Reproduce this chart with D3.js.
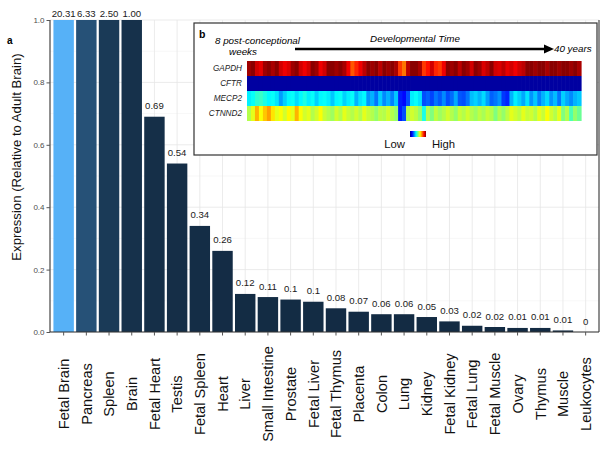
<!DOCTYPE html>
<html><head><meta charset="utf-8">
<script src="https://cdn.jsdelivr.net/npm/d3@7"></script>
<style>
body{margin:0;background:#fff;}
svg{display:block;font-family:"Liberation Sans",Arial,sans-serif;}
</style></head><body>
<svg id="c" width="609" height="451"></svg>
<script>
const categories = ["Fetal Brain","Pancreas","Spleen","Brain","Fetal Heart","Testis","Fetal Spleen","Heart","Liver","Small Intestine","Prostate","Fetal Liver","Fetal Thymus","Placenta","Colon","Lung","Kidney","Fetal Kidney","Fetal Lung","Fetal Muscle","Ovary","Thymus","Muscle","Leukocytes"];
const values = [20.31,6.33,2.50,1.00,0.69,0.54,0.34,0.26,0.122,0.112,0.104,0.097,0.076,0.065,0.057,0.057,0.048,0.034,0.02,0.016,0.013,0.013,0.005,0];
const valueLabels = ["20.31","6.33","2.50","1.00","0.69","0.54","0.34","0.26","0.12","0.11","0.1","0.1","0.08","0.07","0.06","0.06","0.05","0.03","0.02","0.02","0.01","0.01","0.01","0"];
const yTicks = [0,0.2,0.4,0.6,0.8,1.0];
const yMinorTicks = [0.1,0.3,0.5,0.7,0.9];

const genes = ["GAPDH","CFTR","MECP2","CTNND2"];
const gapdh = [0.97,0.99,0.92,0.9,0.97,0.99,0.96,0.99,0.92,0.89,0.91,0.97,0.99,0.92,0.89,0.92,0.99,0.97,0.89,0.92,0.99,0.99,0.97,0.99,0.96,0.89,0.79,0.84,0.89,0.94,0.99,0.97,0.99,0.94,0.99,0.97,0.99,0.96,0.82,0.76,0.94,0.99,0.99,0.96,0.82,0.86,0.92,0.84,0.82,0.89,0.99,0.97,0.99,0.94,0.99,0.97,0.92,0.99,0.97,0.91,0.94,0.99,0.92,0.91,0.94,0.9,0.92,0.89,0.92,0.94,0.99,0.99,0.97,0.99,0.99,0.96,0.99,0.99,0.97,0.99,0.99,0.97,0.99,0.96];
const cftr = [0.02,0.02,0.02,0.02,0.02,0.02,0.02,0.02,0.02,0.02,0.02,0.02,0.02,0.02,0.02,0.02,0.02,0.02,0.02,0.02,0.02,0.02,0.02,0.02,0.02,0.02,0.02,0.02,0.02,0.02,0.02,0.02,0.02,0.02,0.02,0.02,0.02,0.02,0.02,0.02,0.02,0.02,0.02,0.02,0.02,0.02,0.02,0.02,0.02,0.02,0.02,0.02,0.02,0.02,0.02,0.02,0.02,0.02,0.02,0.02,0.02,0.02,0.02,0.02,0.02,0.02,0.02,0.02,0.02,0.02,0.02,0.02,0.02,0.02,0.02,0.02,0.02,0.02,0.02,0.02,0.02,0.02,0.02,0.02];
const mecp2 = [0.36,0.38,0.42,0.43,0.4,0.37,0.38,0.35,0.28,0.33,0.37,0.38,0.34,0.37,0.4,0.36,0.38,0.33,0.37,0.38,0.36,0.32,0.37,0.38,0.33,0.36,0.38,0.3,0.35,0.37,0.27,0.3,0.24,0.33,0.26,0.3,0.25,0.32,0.15,0.13,0.2,0.36,0.38,0.35,0.2,0.22,0.19,0.24,0.21,0.26,0.2,0.23,0.29,0.21,0.2,0.24,0.31,0.33,0.3,0.34,0.28,0.22,0.24,0.27,0.18,0.16,0.3,0.36,0.33,0.29,0.35,0.27,0.32,0.25,0.3,0.34,0.27,0.31,0.24,0.33,0.29,0.26,0.3,0.32];
const ctnnd2 = [0.55,0.6,0.7,0.62,0.68,0.72,0.65,0.6,0.62,0.58,0.63,0.6,0.7,0.62,0.58,0.6,0.55,0.58,0.62,0.57,0.55,0.53,0.58,0.55,0.6,0.57,0.55,0.58,0.55,0.6,0.57,0.55,0.52,0.56,0.55,0.58,0.55,0.52,0.15,0.2,0.55,0.58,0.56,0.52,0.4,0.55,0.5,0.56,0.53,0.55,0.58,0.55,0.52,0.57,0.55,0.58,0.55,0.53,0.56,0.54,0.57,0.55,0.5,0.55,0.52,0.56,0.6,0.58,0.56,0.6,0.57,0.58,0.55,0.6,0.57,0.62,0.58,0.55,0.6,0.5,0.55,0.45,0.52,0.48];
const heatRows = [gapdh, cftr, mecp2, ctnnd2];

const svg = d3.select("#c");
const font = '"Liberation Sans",Arial,sans-serif';

const x = d3.scaleBand().domain(categories).range([52.3, 597]).paddingInner(0.1).paddingOuter(0.05);
const y = d3.scaleLinear().domain([0,1]).range([332, 20]);
const fill = d3.scaleLinear().domain([0, d3.max(values)]).range(["#132B43","#56B1F7"]).interpolate(d3.interpolateLab);

const g = svg.append("g");
g.selectAll(".minor").data(yMinorTicks).join("line")
  .attr("x1",50).attr("x2",599).attr("y1",d=>y(d)).attr("y2",d=>y(d))
  .attr("stroke","#f1f1f1").attr("stroke-width",0.6);
g.selectAll(".major").data(yTicks).join("line")
  .attr("x1",50).attr("x2",599).attr("y1",d=>y(d)).attr("y2",d=>y(d))
  .attr("stroke","#e6e6e6").attr("stroke-width",0.8);
g.selectAll(".vg").data(categories).join("line")
  .attr("x1",d=>x(d)+x.bandwidth()/2).attr("x2",d=>x(d)+x.bandwidth()/2)
  .attr("y1",20).attr("y2",332).attr("stroke","#e6e6e6").attr("stroke-width",0.8);

svg.selectAll(".bar").data(categories).join("rect")
  .attr("x",d=>x(d)).attr("width",x.bandwidth())
  .attr("y",(d,i)=>y(Math.min(values[i],1)))
  .attr("height",(d,i)=>y(0)-y(Math.min(values[i],1)))
  .attr("fill",(d,i)=>fill(values[i]));

svg.selectAll(".vl").data(categories).join("text")
  .attr("x",d=>x(d)+x.bandwidth()/2)
  .attr("y",(d,i)=>values[i]>=1 ? 16.7 : y(values[i])-7.5)
  .attr("text-anchor","middle").attr("font-size","9.6px").attr("fill","#1a1a1a")
  .text((d,i)=>valueLabels[i]);

svg.append("line").attr("x1",50).attr("x2",50).attr("y1",20).attr("y2",332).attr("stroke","#333").attr("stroke-width",1.1);
svg.append("line").attr("x1",50).attr("x2",599).attr("y1",332).attr("y2",332).attr("stroke","#333").attr("stroke-width",1.1);
svg.append("line").attr("x1",599).attr("x2",599).attr("y1",20).attr("y2",332).attr("stroke","#333").attr("stroke-width",1.1);

const yAxis = svg.append("g").attr("transform","translate(50,0)")
  .call(d3.axisLeft(y).tickValues(yTicks).tickFormat(d3.format(".1f")).tickSize(3.5).tickPadding(2));
yAxis.select(".domain").remove();
yAxis.selectAll("line").attr("stroke","#555");
yAxis.selectAll("text").attr("font-size","8px").attr("fill","#4d4d4d").attr("font-family",font);

const xAxis = svg.append("g").attr("transform","translate(0,332)")
  .call(d3.axisBottom(x).tickSize(3.5).tickFormat(""));
xAxis.select(".domain").remove();
xAxis.selectAll("line").attr("stroke","#555");

svg.selectAll(".xl").data(categories).join("text")
  .attr("transform",d=>`translate(${x(d)+x.bandwidth()/2},394) rotate(-90)`)
  .attr("text-anchor","middle").attr("dy","0.36em")
  .attr("font-size","14.6px").attr("fill","#111").text(d=>d);

svg.append("text").attr("transform","translate(16,157) rotate(-90)")
  .attr("text-anchor","middle").attr("dy","0.36em").attr("font-size","13.2px").attr("fill","#111")
  .text("Expression (Relative to Adult Brain)");

svg.append("text").attr("x",7).attr("y",44).attr("font-size","10px").attr("font-weight","bold").text("a");

const ins = svg.append("g");
ins.append("rect").attr("x",194).attr("y",23).attr("width",403).attr("height",132)
  .attr("fill","#fff").attr("stroke","#333").attr("stroke-width",1.2);
ins.append("text").attr("x",199).attr("y",38).attr("font-size","10.5px").attr("font-weight","bold").text("b");
ins.append("text").attr("x",215).attr("y",44).attr("font-size","9.8px").attr("font-style","italic").text("8 post-conceptional");
ins.append("text").attr("x",243).attr("y",55).attr("text-anchor","middle").attr("font-size","9.8px").attr("font-style","italic").text("weeks");
ins.append("text").attr("x",415).attr("y",41.5).attr("text-anchor","middle").attr("font-size","9.8px").attr("font-style","italic").text("Developmental Time");
ins.append("line").attr("x1",295).attr("x2",546).attr("y1",49).attr("y2",49).attr("stroke","#000").attr("stroke-width",2.4);
ins.append("path").attr("d","M544,44.5 L554,49 L544,53.5 Z").attr("fill","#000");
ins.append("text").attr("x",554).attr("y",52).attr("font-size","9.8px").attr("font-style","italic").text("40 years");

const jet = d3.scaleLinear().domain([0,0.125,0.375,0.625,0.875,1])
  .range(["#00008f","#0000ff","#00ffff","#ffff00","#ff0000","#800000"]);
const hx = d3.scaleBand().domain(d3.range(gapdh.length)).range([247,581]);
const hy = d3.scaleBand().domain(genes).range([61,121]);
genes.forEach((gname,r)=>{
  ins.append("g").selectAll("rect").data(heatRows[r]).join("rect")
    .attr("x",(d,i)=>hx(i)).attr("width",hx.bandwidth()+0.6)
    .attr("y",hy(gname)).attr("height",hy.bandwidth())
    .attr("fill",d=>jet(d));
  ins.append("text").attr("x",242).attr("y",hy(gname)+hy.bandwidth()/2).attr("dy","0.35em")
    .attr("text-anchor","end").attr("font-size","8.2px").attr("font-style","italic").attr("fill","#222").text(gname);
});

const defs = svg.append("defs");
const grad = defs.append("linearGradient").attr("id","jetg");
jet.domain().forEach(v=>grad.append("stop").attr("offset",v).attr("stop-color",jet(v)));
ins.append("rect").attr("x",410).attr("y",131).attr("width",16).attr("height",6).attr("fill","url(#jetg)");
ins.append("text").attr("x",394.5).attr("y",148).attr("text-anchor","middle").attr("font-size","11.3px").attr("fill","#111").text("Low");
ins.append("text").attr("x",443.5).attr("y",148).attr("text-anchor","middle").attr("font-size","11.3px").attr("fill","#111").text("High");
</script>
</body></html>
